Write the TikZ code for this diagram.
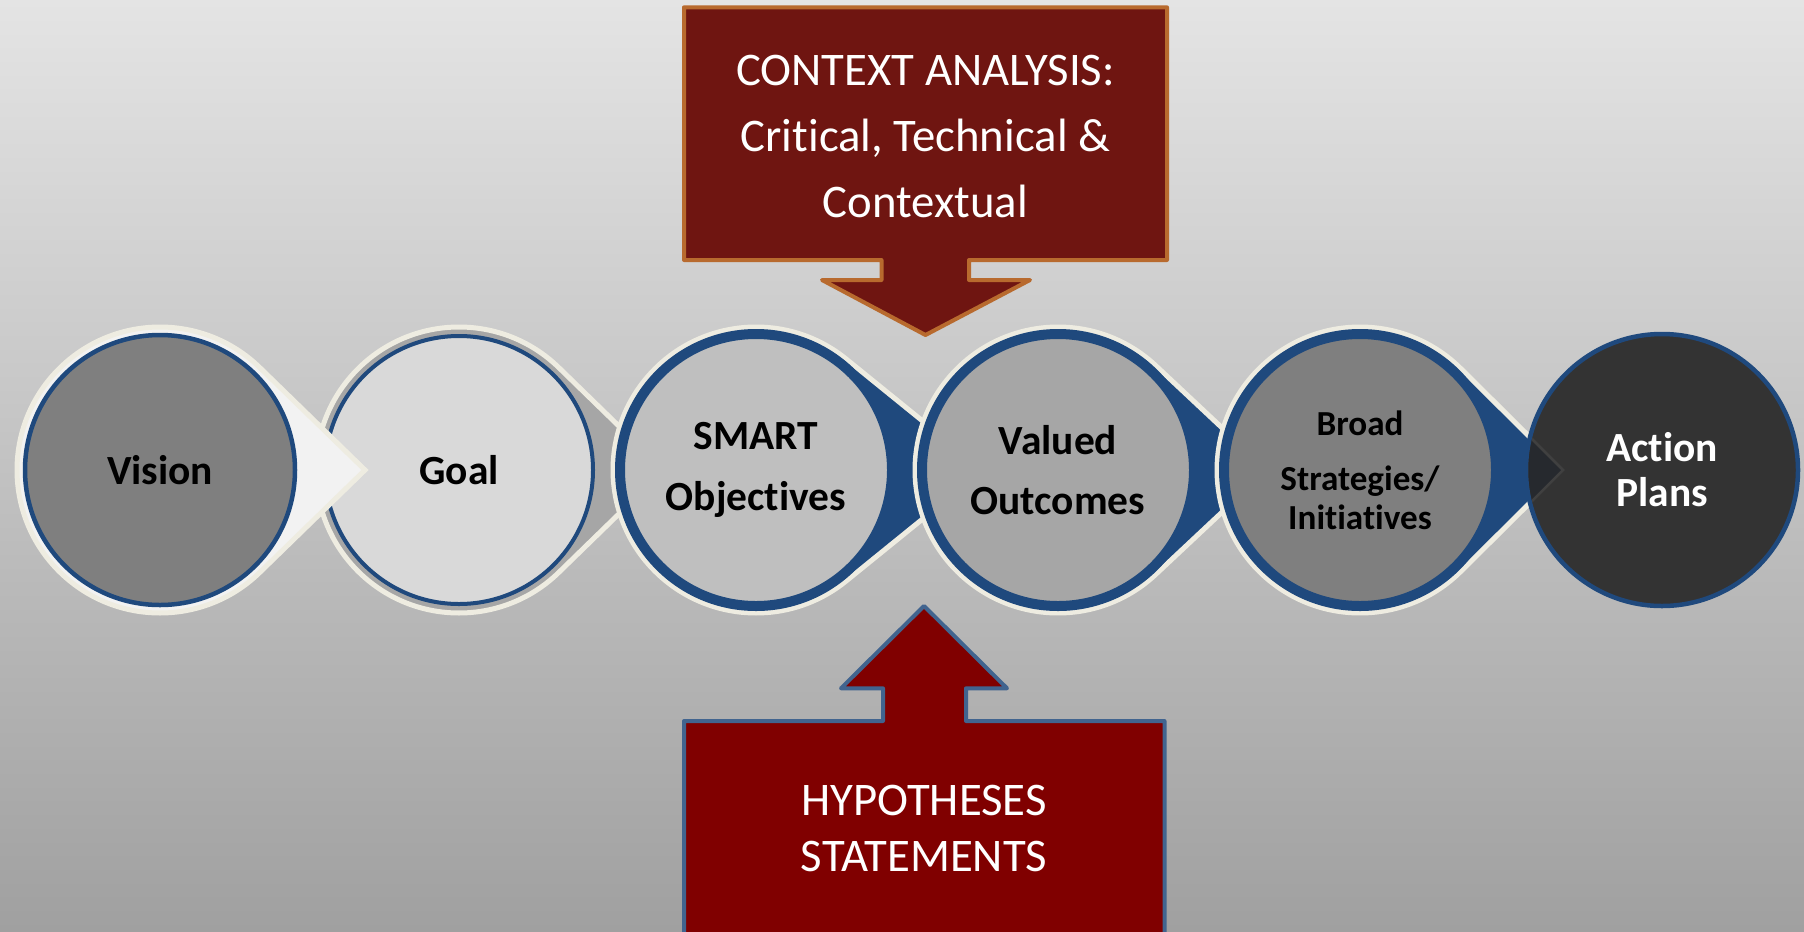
\documentclass[tikz,border=0pt]{standalone}
\usepackage{fontspec}
\setmainfont{Carlito}[Ligatures=NoCommon]
\usepackage{tikz}

\definecolor{cream}{HTML}{EEECE1}
\definecolor{ringblue}{HTML}{1F497D}
\definecolor{visionfill}{HTML}{7F7F7F}
\definecolor{visiontip}{HTML}{F2F2F2}
\definecolor{goalfill}{HTML}{D9D9D9}
\definecolor{goaltip}{HTML}{A6A6A6}
\definecolor{smartfill}{HTML}{BFBFBF}
\definecolor{valuedfill}{HTML}{A6A6A6}
\definecolor{broadfill}{HTML}{7F7F7F}
\definecolor{actionfill}{HTML}{333333}
\definecolor{chevronfill}{HTML}{26292E}
\definecolor{ctxfill}{HTML}{6F1511}
\definecolor{ctxline}{HTML}{B86A2E}
\definecolor{hypfill}{HTML}{800000}
\definecolor{hypline}{HTML}{41648F}
\definecolor{bgtop}{HTML}{E4E4E4}
\definecolor{bgmid}{HTML}{C3C3C3}
\definecolor{bgbot}{HTML}{A0A0A0}

% #1 centre, #2 distance to the tip, #3 fill, #4 radius
\newcommand{\stagetear}[4]{%
  \pgfmathsetmacro{\tang}{acos(#4/#2)}
  \filldraw[tear, fill=#3] (#1) ++(\tang:#4)
    arc[start angle=\tang, end angle={360-\tang}, radius=#4]
    -- ([xshift=#2cm]#1) -- cycle;}

\begin{document}
\begin{tikzpicture}[
    tear/.style={draw=cream, line width=0.05cm, line join=miter},
    callout/.style={line width=0.04cm, line join=round},
    boxtext/.style={text=white, align=center, inner sep=0pt}]

  \useasboundingbox (0,0) rectangle (18.04,9.31);
  \shade[top color=bgtop, middle color=bgmid, bottom color=bgbot]
    (0,0) rectangle (18.04,9.31);

  \coordinate (vis) at (1.60,4.61);
  \coordinate (gol) at (4.59,4.61);
  \coordinate (sma) at (7.56,4.61);
  \coordinate (val) at (10.58,4.61);
  \coordinate (bro) at (13.60,4.61);
  \coordinate (act) at (16.62,4.61);

  \begin{scope}[every node/.style={circle, inner sep=0pt, align=center,
      draw=ringblue, font=\bfseries\fontsize{11.8}{17.2}\selectfont}]
    \stagetear{gol}{2.05}{goaltip}{1.43}
    \node[fill=goalfill, line width=0.04cm, minimum size=2.68cm] (goal) at (gol) {Goal};

    \stagetear{vis}{2.05}{visiontip}{1.43}
    \node[fill=visionfill, line width=0.045cm, minimum size=2.70cm] (vision) at (vis) {Vision};

    \stagetear{sma}{2.27}{ringblue}{1.43}
    \node[fill=smartfill, line width=0.1cm, minimum size=2.72cm] (smart) at (sma) {SMART\\Objectives};

    \stagetear{val}{2.09}{ringblue}{1.43}
    \node[fill=valuedfill, line width=0.1cm, minimum size=2.72cm] (valued) at (val) {Valued\\Outcomes};

    \stagetear{bro}{2.03}{ringblue}{1.43}
    \node[fill=broadfill, line width=0.1cm, minimum size=2.72cm,
      font=\bfseries\fontsize{10}{11.1}\selectfont] (broad) at (bro)
      {Broad\\[4.5pt]Strategies/\\Initiatives};

    \node[fill=actionfill, line width=0.045cm, minimum size=2.72cm, text=white,
      font=\bfseries\fontsize{11.8}{12.8}\selectfont] (action) at (act) {Action\\Plans};
  \end{scope}

  % tip of the broad strategies pointer seen through the last circle
  \begin{scope}
    \clip (action.center) circle (1.335);
    \filldraw[fill=chevronfill, draw=black!75, line width=0.025cm]
      ([xshift=2.03cm]bro) -- ++(-0.73,0.73) -- ++(0,-1.46) -- cycle;
  \end{scope}

  % context analysis callout
  \filldraw[callout, fill=ctxfill, draw=ctxline]
    (6.84,9.237) -- (11.67,9.237) -- (11.67,6.71) -- (9.69,6.71) -- (9.69,6.51)
    -- (10.30,6.51) -- (9.255,5.96) -- (8.22,6.51) -- (8.815,6.51)
    -- (8.815,6.71) -- (6.84,6.71) -- cycle;
  \node[boxtext, font=\fontsize{13.3}{18.7}\selectfont] (context) at (9.255,7.943)
    {CONTEXT ANALYSIS:\\Critical, Technical \&\\Contextual};

  % hypotheses callout
  \filldraw[callout, fill=hypfill, draw=hypline]
    (6.84,-0.1) -- (6.84,2.10) -- (8.83,2.10) -- (8.83,2.427) -- (8.41,2.427)
    -- (9.24,3.25) -- (10.07,2.427) -- (9.66,2.427) -- (9.66,2.10)
    -- (11.645,2.10) -- (11.645,-0.1) -- cycle;
  \node[boxtext, font=\fontsize{13.3}{16.1}\selectfont] (hypotheses) at (9.24,1.027)
    {HYPOTHESES\\STATEMENTS};
\end{tikzpicture}
\end{document}
